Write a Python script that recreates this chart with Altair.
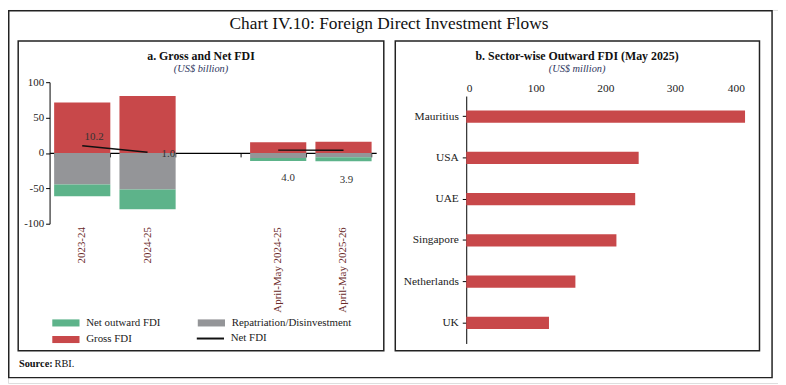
import altair as alt
import pandas as pd

# ---------------- data ----------------
periods = ["2023-24", "2024-25", " ", "April-May 2024-25", "April-May 2025-26"]
bar_periods = ["2023-24", "2024-25", "April-May 2024-25", "April-May 2025-26"]
gross_fdi = [71.3, 80.5, 15.3, 15.7]
repatriation = [-44.5, -51.5, -7.2, -5.9]
net_outward_fdi = [-16.6, -28.0, -4.1, -5.9]
net_fdi = [10.2, 1.0, 4.0, 3.9]
line_groups = ["annual", "annual", "april-may", "april-may"]

# legend order (filled column by column): Net outward FDI, Gross FDI | Repatriation/Disinvestment
series_names = ["Net outward FDI", "Gross FDI", "Repatriation/Disinvestment"]
series_colors = ["#5DB38A", "#C8484A", "#949598"]

countries = ["Mauritius", "USA", "UAE", "Singapore", "Netherlands", "UK"]
outward_fdi = [401, 248, 243, 216, 157, 119]

FONT = "Liberation Serif"
W, H = 778, 377

# ---------------- tables ----------------
rows = []
for i, p in enumerate(bar_periods):
    rows.append({"period": p, "series": "Gross FDI", "value": gross_fdi[i], "ord": 0})
    rows.append({"period": p, "series": "Repatriation/Disinvestment", "value": repatriation[i], "ord": 1})
    rows.append({"period": p, "series": "Net outward FDI", "value": net_outward_fdi[i], "ord": 2})
df_bars = pd.DataFrame(rows)

df_line = pd.DataFrame({
    "period": bar_periods,
    "value": net_fdi,
    "grp": line_groups,
    "lname": ["Net FDI"] * len(bar_periods),
    "label": [f"{v:.1f}" for v in net_fdi],
})

df_b = pd.DataFrame({"country": countries, "fdi": outward_fdi})
dummy = pd.DataFrame({"a": [0]})

# ---------------- panel a ----------------
xscale = alt.Scale(domain=periods, range=[42, 372], paddingInner=0.14, paddingOuter=0.07)
yscale = alt.Scale(domain=[-100, 100], range=[216, 73], nice=False)
yaxis_a = alt.Axis(orient="left", offset=-42, values=[-100, -50, 0, 50, 100],
                   labelExpr="datum.value + ''",
                   tickSize=4, domainColor="black", tickColor="black",
                   labelFont=FONT, labelFontSize=11, labelColor="#222",
                   labelPadding=2, title=None, grid=False)

bars_a = alt.Chart(df_bars).mark_bar().encode(
    x=alt.X("period:N", scale=xscale, sort=periods,
            axis=alt.Axis(orient="bottom", offset=-161, domain=False, ticks=False,
                          labelAngle=270, labelAlign="right", labelBaseline="middle",
                          labelPadding=3, labelFont=FONT, labelFontSize=11,
                          labelColor="#6a2a2a", title=None, grid=False)),
    y=alt.Y("value:Q", scale=yscale, stack="zero", axis=yaxis_a),
    color=alt.Color("series:N", scale=alt.Scale(domain=series_names, range=series_colors),
                    legend=alt.Legend(orient="none", legendX=52, legendY=309.5, columns=2,
                                      columnPadding=36, rowPadding=5,
                                      symbolType="M-2.5,-0.65H2.5V0.65H-2.5Z", symbolSize=121,
                                      labelOffset=14, labelFont=FONT, labelFontSize=11,
                                      labelColor="#222", title=None, padding=0, labelLimit=300)),
    order=alt.Order("ord:Q"),
)

zero_axis = alt.Chart(df_bars).mark_bar(opacity=0).encode(
    x=alt.X("period:N", scale=xscale, sort=periods,
            axis=alt.Axis(orient="bottom", offset=-232.5, labels=False, domain=True,
                          domainColor="black", domainWidth=1.2, ticks=True, tickBand="extent",
                          tickSize=4, tickColor="black", title=None, grid=False)),
    y=alt.Y("value:Q", scale=yscale, stack="zero", axis=yaxis_a),
)

line_a = alt.Chart(df_line).mark_line(strokeWidth=1.5).encode(
    x=alt.X("period:N", scale=xscale, sort=periods, axis=None),
    y=alt.Y("value:Q", scale=yscale, axis=yaxis_a),
    detail="grp:N",
    stroke=alt.Stroke("lname:N", scale=alt.Scale(domain=["Net FDI"], range=["#111111"]),
                      legend=alt.Legend(orient="none", legendX=198, legendY=325.5,
                                        symbolType="M-2.5,0H2.5", symbolSize=121,
                                        symbolStrokeWidth=2, labelOffset=14, labelFont=FONT,
                                        labelFontSize=11, labelColor="#222", title=None,
                                        padding=0)),
)

label_offsets = {"2023-24": (12, -9), "2024-25": (21, 2),
                 "April-May 2024-25": (10, 28), "April-May 2025-26": (3, 30)}
label_layers = []
for p, (dx, dy) in label_offsets.items():
    label_layers.append(
        alt.Chart(df_line).transform_filter(alt.datum.period == p)
        .mark_text(font=FONT, fontSize=11, color="#333", dx=dx, dy=dy)
        .encode(x=alt.X("period:N", scale=xscale, sort=periods, axis=None),
                y=alt.Y("value:Q", scale=yscale, axis=yaxis_a),
                text="label:N")
    )

panel_a = alt.layer(bars_a, zero_axis, line_a, *label_layers).resolve_axis(x="independent")

# ---------------- panel b ----------------
bars_b = alt.Chart(df_b).mark_bar(color="#C8484A").encode(
    y=alt.Y("country:N", sort=countries,
            scale=alt.Scale(domain=countries, range=[87, 337], paddingInner=0.7, paddingOuter=0.35),
            axis=alt.Axis(orient="left", offset=-463, domainColor="black", tickColor="black",
                          tickSize=4, labelPadding=4, labelFont=FONT, labelFontSize=11.5,
                          labelColor="#222", title=None, grid=False)),
    x=alt.X("fdi:Q", scale=alt.Scale(domain=[0, 400], range=[463, 744], nice=False),
            axis=alt.Axis(orient="top", offset=-86, domain=False, ticks=False,
                          values=[0, 100, 200, 300, 400], labelPadding=2, labelFont=FONT,
                          labelFontSize=11.5, labelColor="#222", title=None, grid=False)),
)

# ---------------- decorations ----------------
def box(x1, x2, y1, y2, sw=1.5):
    return alt.Chart(dummy).mark_rect(fillOpacity=0, stroke="#222", strokeWidth=sw).encode(
        x=alt.value(x1), x2=alt.value(x2), y=alt.value(y1), y2=alt.value(y2))

def txt(s, x, y, size, weight="normal", style="normal", align="center", color="#111"):
    return alt.Chart(dummy).mark_text(text=s, font=FONT, fontSize=size, fontWeight=weight,
                                      fontStyle=style, align=align, baseline="alphabetic",
                                      color=color).encode(x=alt.value(x), y=alt.value(y))

decor = [
    box(0.75, 772, 0.75, 371.5),
    box(10.3, 379.7, 31.3, 344.3),
    box(391.3, 759.3, 31.3, 344.3),
    txt("Chart IV.10: Foreign Direct Investment Flows", 385, 19.7, 17.5),
    txt("a. Gross and Net FDI", 195, 51, 12, weight="bold"),
    txt("(US$ billion)", 195, 62.7, 10.5, style="italic", color="#2f3760"),
    txt("b. Sector-wise Outward FDI (May 2025)", 575, 51, 12, weight="bold"),
    txt("(US$ million)", 575, 62.7, 10.5, style="italic", color="#2f3760"),
    txt("Source:", 11, 360.3, 10.5, weight="bold", align="left"),
    txt("RBI.", 47, 360.3, 10.5, align="left"),
]

chart = alt.layer(*decor, panel_a, bars_b).resolve_scale(
    x="independent", y="independent", color="independent", stroke="independent"
).properties(
    width=W, height=H, padding=0,
    autosize=alt.AutoSizeParams(type="none"),
).configure_view(stroke=None).configure(background="white")

chart.save("out.html", embed_options={"renderer": "svg", "actions": False})
